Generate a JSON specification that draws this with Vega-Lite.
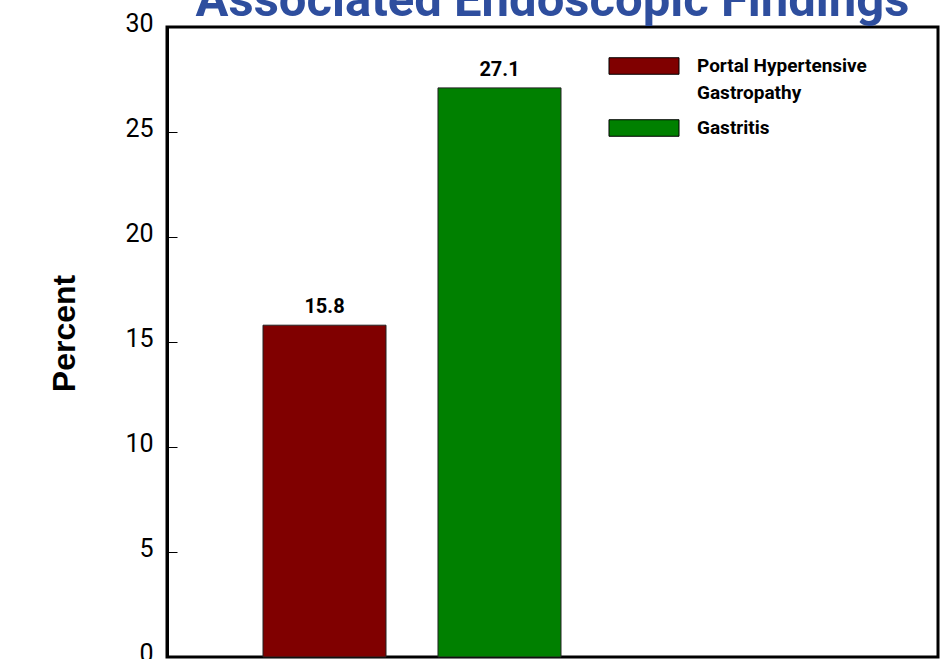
{
  "$schema": "https://vega.github.io/schema/vega-lite/v6.json",
  "autosize": "none",
  "width": 771,
  "height": 630,
  "padding": {"left": 167, "top": 27, "right": 10, "bottom": 2},
  "background": "white",
  "title": {
    "text": "Associated Endoscopic Findings",
    "anchor": "middle",
    "offset": -54,
    "baseline": "alphabetic",
    "font": "Roboto",
    "fontSize": 49,
    "fontWeight": "bold",
    "color": "#2E4E9E"
  },
  "config": {
    "view": {"stroke": "black", "strokeWidth": 3},
    "font": "Roboto"
  },
  "data": {
    "values": [
      {"finding": "Portal Hypertensive Gastropathy", "percent": 15.8},
      {"finding": "Gastritis", "percent": 27.1}
    ]
  },
  "encoding": {
    "x": {
      "field": "finding",
      "type": "nominal",
      "sort": ["Portal Hypertensive Gastropathy", "Gastritis"],
      "scale": {"range": [96, 394], "paddingInner": 0.297, "paddingOuter": 0, "align": 0.5},
      "axis": null
    },
    "y": {
      "field": "percent",
      "type": "quantitative",
      "scale": {"domain": [0, 30], "nice": false},
      "axis": {
        "title": "Percent",
        "titleFont": "Liberation Sans",
        "titleFontSize": 32,
        "titleFontWeight": "bold",
        "titleColor": "black",
        "titleAngle": -90,
        "titleX": -93,
        "titleY": 306,
        "titleAlign": "center",
        "titleBaseline": "alphabetic",
        "values": [0, 5, 10, 15, 20, 25, 30],
        "grid": false,
        "domainColor": "black",
        "domainWidth": 3,
        "tickColor": "black",
        "tickWidth": 1,
        "tickSize": -10,
        "labelPadding": 24,
        "labelOffset": -4,
        "labelFontSize": 25,
        "labelColor": "black",
        "labelFont": "Roboto",
        "labelFlush": false
      }
    }
  },
  "layer": [
    {
      "mark": {"type": "bar", "stroke": "#222222", "strokeWidth": 1},
      "encoding": {
        "color": {
          "field": "finding",
          "type": "nominal",
          "sort": ["Portal Hypertensive Gastropathy", "Gastritis"],
          "scale": {"domain": ["Portal Hypertensive Gastropathy", "Gastritis"], "range": ["#800000", "#008000"]},
          "legend": {
            "title": null,
            "orient": "none",
            "legendX": 452,
            "legendY": 14,
            "symbolType": "M-1.4286,-0.337H1.4286V0.337H-1.4286Z",
            "symbolSize": 2401,
            "symbolStrokeColor": "black",
            "symbolStrokeWidth": 1,
            "symbolOpacity": 1,
            "labelFont": "Roboto",
            "labelFontSize": 19,
            "labelFontWeight": "bold",
            "labelColor": "black",
            "labelOffset": 28,
            "labelLimit": 400,
            "labelBaseline": "middle",
            "rowPadding": 0,
            "encode": {"labels": {"update": {"lineHeight": {"value": 27}}}},
            "labelExpr": "datum.label == 'Portal Hypertensive Gastropathy' ? ['Portal Hypertensive', 'Gastropathy'] : datum.label"
          }
        }
      }
    },
    {
      "mark": {"type": "text", "baseline": "alphabetic", "dy": -12, "font": "Roboto", "fontSize": 20, "fontWeight": "bold", "color": "black"},
      "encoding": {
        "text": {"field": "percent", "type": "quantitative", "format": ".1f"}
      }
    }
  ]
}
